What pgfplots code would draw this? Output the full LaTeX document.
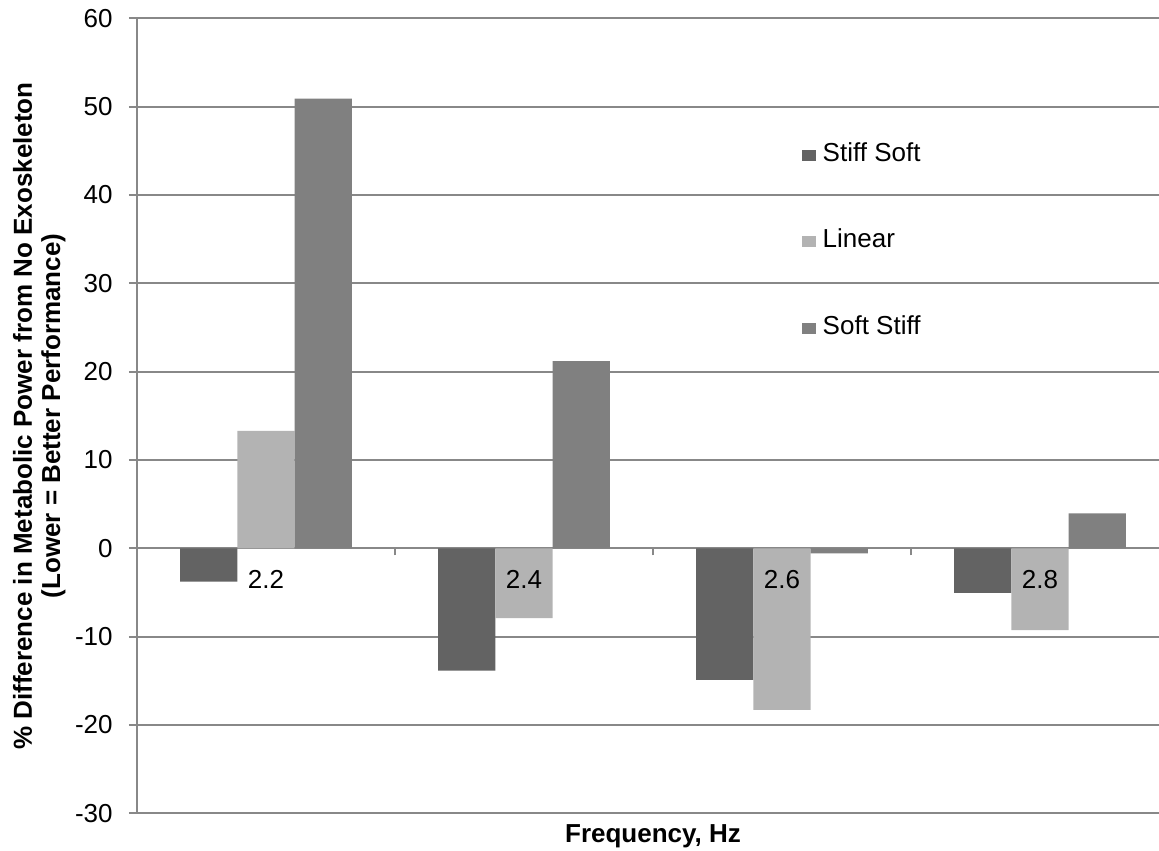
\documentclass[border=0pt]{standalone}
\usepackage{fontspec}
\setmainfont{Liberation Sans}
\usepackage{pgfplots}
\pgfplotsset{compat=1.18}
\pgfplotsset{
  layers/labelsontop/.define layer set={
    axis background,axis grid,axis ticks,axis lines,main,axis tick labels,axis descriptions,axis foreground
  }{/pgfplots/layers/standard},
}
\definecolor{cSS}{RGB}{99,99,99}
\definecolor{cLin}{RGB}{179,179,179}
\definecolor{cSoS}{RGB}{128,128,128}
\definecolor{gridgray}{RGB}{136,136,136}
\begin{document}
\begin{tikzpicture}[font=\fontsize{13pt}{15.6pt}\selectfont]
\begin{axis}[
  set layers=labelsontop,
  scale only axis, width=516pt, height=397.5pt,
  at={(0,0)}, anchor=south west,
  xmin=-0.5, xmax=3.5, ymin=-30, ymax=60,
  ybar, bar width=28.65pt,
  axis y line*=left, axis x line*=middle,
  axis line style={gridgray, line width=0.9pt},
  ymajorgrids, grid style={gridgray, line width=0.9pt},
  ytick={-30,-20,...,60},
  yticklabels={-30,-20,-10,0,10,20,30,40,50,60},
  ytick align=outside, major tick length=4pt,
  ytick style={gridgray, line width=0.9pt},
  yticklabel style={anchor=east, inner sep=0pt, xshift=-8pt},
  xtick={0,1,2,3}, xticklabels={2.2,2.4,2.6,2.8},
  xtick style={draw=none},
  xticklabel style={anchor=base, inner sep=0pt, yshift=-16.25pt},
  extra x ticks={0.5,1.5,2.5}, extra x tick labels={},
  extra x tick style={xtick style={draw=gridgray, line width=0.9pt}, tick align=outside, major tick length=3.5pt, grid=none},
  legend style={draw=none, fill=none, at={(axis description cs:0.6441,0.8441)}, anchor=north west,
    inner sep=0pt, outer sep=0pt, row sep=33.8pt, column sep=3.5pt,
    nodes={inner sep=0pt, text height=9.5pt, text depth=0pt}},
  legend cell align=left,
  legend image code/.code={\fill[#1,draw=none] (0pt,-4.5pt) rectangle (7pt,1pt);},
]
\addplot[fill=cSS, draw=none, bar shift=-28.65pt] coordinates {(0,-3.78) (1,-13.86) (2,-14.9) (3,-5.06)};
\addplot[fill=cLin, draw=none, bar shift=0pt] coordinates {(0,13.3) (1,-7.9) (2,-18.3) (3,-9.25)};
\addplot[fill=cSoS, draw=none, bar shift=28.65pt] coordinates {(0,50.9) (1,21.2) (2,-0.57) (3,3.96)};
\legend{Stiff Soft, Linear, Soft Stiff}
\end{axis}
\node[rotate=90, anchor=base, font=\fontsize{13pt}{15.6pt}\selectfont\bfseries] at (-52.5pt,198.65pt) {\% Difference in Metabolic Power from No Exoskeleton};
\node[rotate=90, anchor=base, font=\fontsize{13pt}{15.6pt}\selectfont\bfseries] at (-38.5pt,198.65pt) {(Lower = Better Performance)};
\node[anchor=base, font=\fontsize{13pt}{15.6pt}\selectfont\bfseries] at (258pt,-14.35pt) {Frequency, Hz};
\pgfresetboundingbox
\path[use as bounding box] (-68.5pt,-18.35pt) rectangle (511pt,406.65pt);
\end{tikzpicture}
\end{document}
